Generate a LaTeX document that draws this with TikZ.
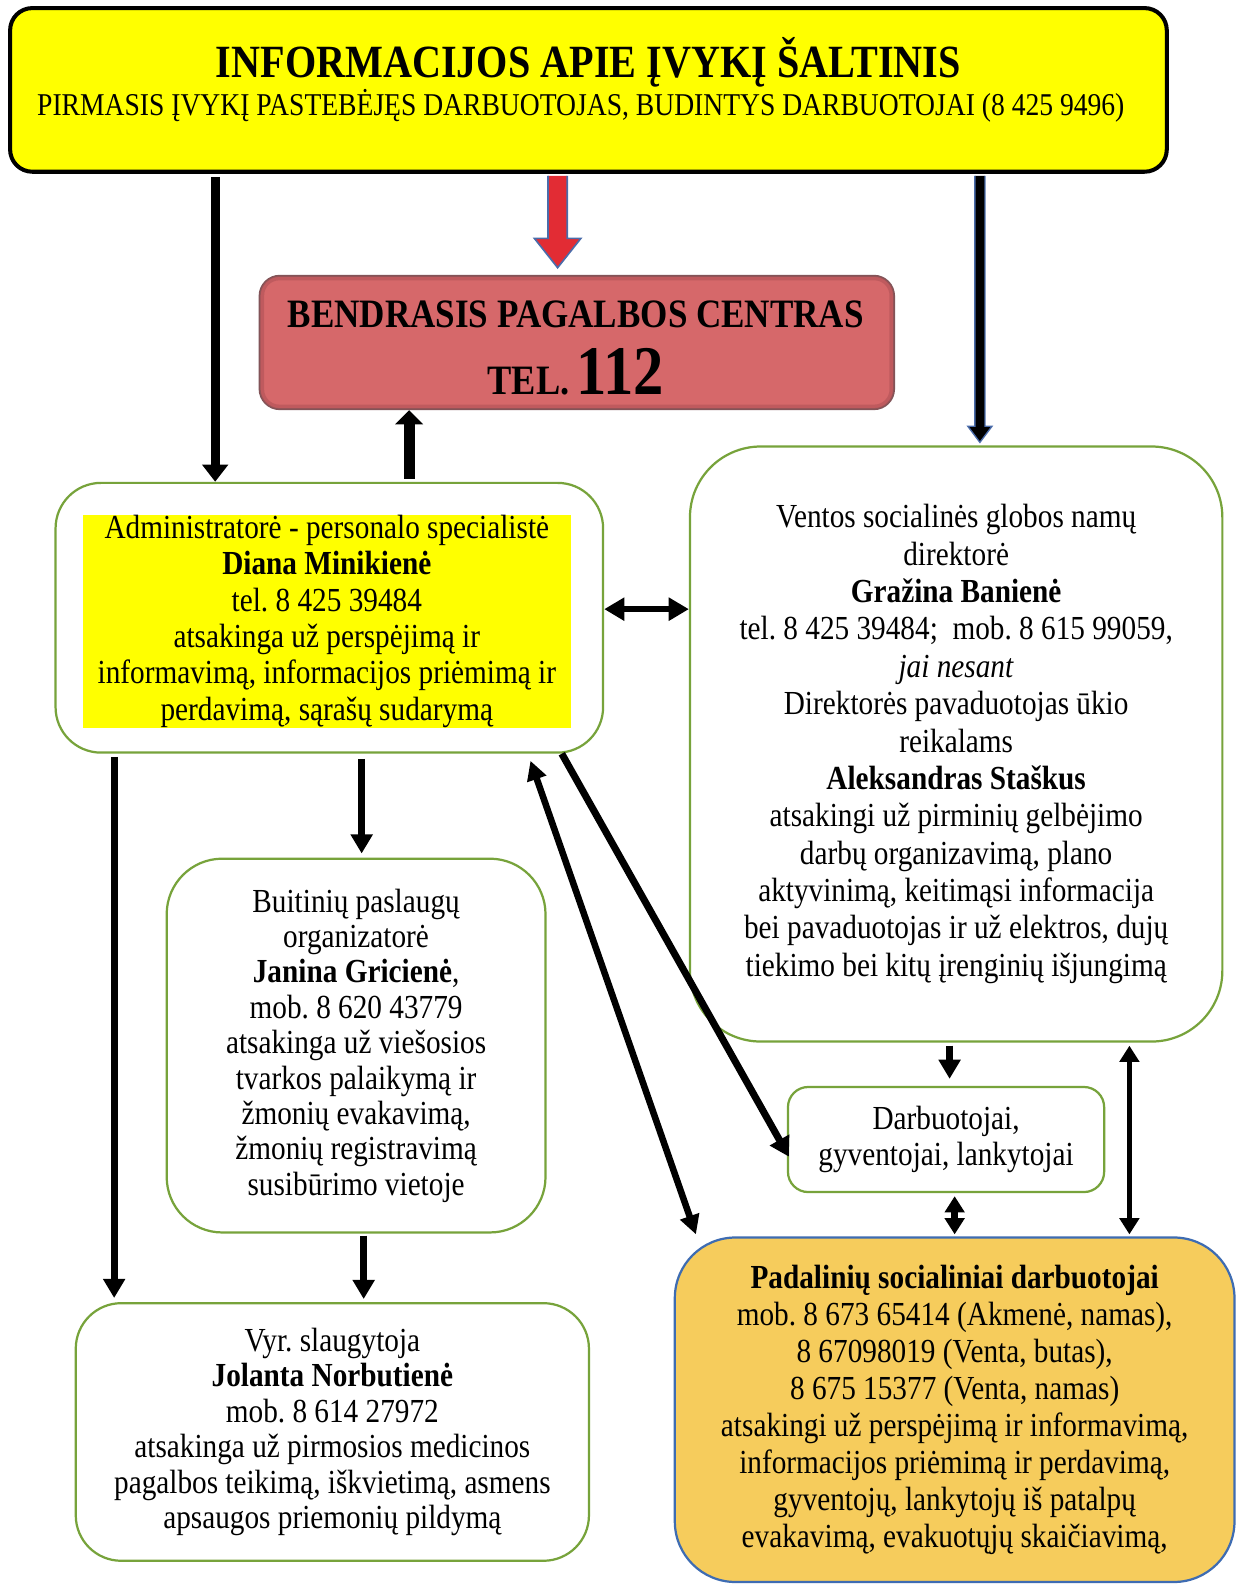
\documentclass[tikz,border=0pt]{standalone}
\usepackage{fontspec}
\setmainfont[FakeStretch=0.87]{Liberation Serif}
\usetikzlibrary{arrows.meta,calc}
\definecolor{gborder}{RGB}{119,163,59}
\definecolor{ylw}{RGB}{255,255,0}
\definecolor{redbox}{RGB}{214,104,106}
\definecolor{redboxborder}{RGB}{130,84,88}
\definecolor{redbevel}{RGB}{176,82,86}
\definecolor{redarrow}{RGB}{226,44,52}
\definecolor{bluedge}{RGB}{74,108,170}
\definecolor{padfill}{RGB}{246,204,92}
\definecolor{padborder}{RGB}{62,108,178}
\frenchspacing
\begin{document}
\begin{tikzpicture}[x=1pt,y=-1pt,
  gbox/.style={draw=gborder, line width=2.2pt, fill=white, rounded corners=#1, align=center, inner sep=0pt},
  txt/.style={font=\fontsize{33.3}{#1}\selectfont},
  arr/.style={line width=7pt, -{Triangle[length=19pt,width=21pt]}},
  darr/.style={line width=6.5pt, {Triangle[length=16pt,width=19pt]}-{Triangle[length=16pt,width=19pt]}},
]
\useasboundingbox (0,0) rectangle (1225,1568);
\fill[white] (0,0) rectangle (1225,1568);

% top box
\node[draw=black, line width=4pt, fill=ylw, rounded corners=22pt, minimum width=1145pt, minimum height=162pt, inner sep=0pt] (top) at (582.5,89) {};
\node[font=\fontsize{45.7}{50}\selectfont\bfseries, inner sep=0pt] (title) at (582.5,62) {INFORMACIJOS APIE ĮVYKĮ ŠALTINIS};
\node[font=\fontsize{31.4}{36}\selectfont, inner sep=0pt] (subtitle) at (575,105) {PIRMASIS ĮVYKĮ PASTEBĖJĘS DARBUOTOJAS, BUDINTYS DARBUOTOJAI (8 425 9496)};

% red box
\node[draw=redboxborder, line width=2pt, fill=redbox, rounded corners=20pt, minimum width=628pt, minimum height=132pt, inner sep=0pt] (red) at (571,339) {};
\draw[redbevel, line width=4pt, opacity=0.6, rounded corners=17pt] ($(red.north west)+(3.5,3.5)$) rectangle ($(red.south east)+(-3.5,-3.5)$);
\node[font=\fontsize{39.9}{44}\selectfont\bfseries, inner sep=0pt] (redt1) at (570,311) {BENDRASIS PAGALBOS CENTRAS};
\node[font=\bfseries, anchor=base, inner sep=0pt] (redt2) at (570,391) {\fontsize{41.4}{45}\selectfont TEL.\,\fontsize{69}{72}\selectfont 112};

% admin box
\node[gbox=45pt, minimum width=542pt, minimum height=267pt] (admin) at (326,611.5) {};
\node[fill=ylw, minimum width=483pt, minimum height=210pt, txt=36, align=center, inner sep=0pt] (admintxt) at (323.5,615) {Administratorė - personalo specialistė\\ \textbf{Diana Minikienė}\\ tel. 8 425 39484\\ atsakinga už perspėjimą ir\\ informavimą, informacijos priėmimą ir\\ perdavimą, sąrašų sudarymą};

% ventos box
\node[gbox=70pt, minimum width=527pt, minimum height=589pt, txt=37] (ventos) at (946.5,736.5) {Ventos socialinės globos namų\\ direktorė\\ \textbf{Gražina Banienė}\\ tel. 8 425 39484;\ \ mob. 8 615 99059,\\ \textit{jai nesant}\\ Direktorės pavaduotojas ūkio\\ reikalams\\ \textbf{Aleksandras Staškus}\\ atsakingi už pirminių gelbėjimo\\ darbų organizavimą, plano\\ aktyvinimą, keitimąsi informacija\\ bei pavaduotojas ir už elektros, dujų\\ tiekimo bei kitų įrenginių išjungimą};

% buitiniu box
\node[gbox=55pt, minimum width=375pt, minimum height=370pt, txt=35] (buit) at (352.5,1035) {Buitinių paslaugų\\ organizatorė\\ \textbf{Janina Gricienė},\\ mob. 8 620 43779\\ atsakinga už viešosios\\ tvarkos palaikymą ir\\ žmonių evakavimą,\\ žmonių registravimą\\ susibūrimo vietoje};

% vyr box
\node[gbox=45pt, minimum width=508pt, minimum height=255pt, txt=35] (vyr) at (329,1417.5) {Vyr. slaugytoja\\ \textbf{Jolanta Norbutienė}\\ mob. 8 614 27972\\ atsakinga už pirmosios medicinos\\ pagalbos teikimą, iškvietimą, asmens\\ apsaugos priemonių pildymą};

% darbuotojai box
\node[gbox=20pt, minimum width=313pt, minimum height=104pt, txt=35] (darb) at (936.5,1128) {Darbuotojai,\\ gyventojai, lankytojai};

% padaliniu box
\node[draw=padborder, line width=2.2pt, fill=padfill, rounded corners=60pt, minimum width=554pt, minimum height=341pt, inner sep=0pt, align=center, txt=36.6] (pad) at (945,1395.5) {\textbf{Padalinių socialiniai darbuotojai}\\ mob. 8 673 65414 (Akmenė, namas),\\ 8 67098019 (Venta, butas),\\ 8 675 15377 (Venta, namas)\\ atsakingi už perspėjimą ir informavimą,\\ informacijos priėmimą ir perdavimą,\\ gyventojų, lankytojų iš patalpų\\ evakavimą, evakuotųjų skaičiavimą,};

% ---- connectors ----
% top -> admin (black block arrow)
\draw[line width=9pt, -{Triangle[length=17pt,width=25pt]}, shorten <=3pt] (213,0 |- top.south) -- (213,0 |- admin.north);

% top -> red (red block arrow with blue edge)
\coordinate (rs) at ($(552,0 |- top.south)+(0,2)$);
\coordinate (re) at ($(552,0 |- red.north)+(0,-7)$);
\fill[redarrow] ($(rs)+(-9.5,0)$) -- ($(re)+(-9.5,-29)$) -- ($(re)+(-23,-29)$) -- (re) -- ($(re)+(23,-29)$) -- ($(re)+(9.5,-29)$) -- ($(rs)+(9.5,0)$) -- cycle;
\draw[bluedge, line width=1.6pt, line join=miter] ($(rs)+(-9.5,0)$) -- ($(re)+(-9.5,-29)$) -- ($(re)+(-23,-29)$) -- (re) -- ($(re)+(23,-29)$) -- ($(re)+(9.5,-29)$) -- ($(rs)+(9.5,0)$);

% top -> ventos (black block arrow with blue edge)
\coordinate (bs) at ($(970,0 |- top.south)+(0,2)$);
\coordinate (be) at ($(970,0 |- ventos.north)+(0,-3)$);
\fill[black] ($(bs)+(-5,0)$) -- ($(be)+(-5,-16)$) -- ($(be)+(-12,-16)$) -- (be) -- ($(be)+(12,-16)$) -- ($(be)+(5,-16)$) -- ($(bs)+(5,0)$) -- cycle;
\draw[bluedge, line width=1.3pt, line join=miter] ($(bs)+(-5,0)$) -- ($(be)+(-5,-16)$) -- ($(be)+(-12,-16)$) -- (be) -- ($(be)+(12,-16)$) -- ($(be)+(5,-16)$) -- ($(bs)+(5,0)$);

% admin -> red (up)
\draw[line width=11pt, -{Triangle[length=14pt,width=27pt]}, shorten <=3pt] (405,0 |- admin.north) -- (405,0 |- red.south);

% admin <-> ventos
\draw[darr, {Triangle[length=20pt,width=22pt]}-{Triangle[length=20pt,width=22pt]}] (admin.east |- 0,603) -- (ventos.west |- 0,603);

% admin -> buit
\draw[arr, shorten <=5pt, shorten >=4pt] (358,0 |- admin.south) -- (358,0 |- buit.north);
% admin -> vyr
\draw[arr, shorten <=3pt, shorten >=4pt] (113,0 |- admin.south) -- (113,0 |- vyr.north);
% buit -> vyr
\draw[arr, shorten <=2pt, shorten >=3pt] (360,0 |- buit.south) -- (360,0 |- vyr.north);
% admin -> darb (diagonal)
\draw[arr] ($(admin.south east)+(-42,0)$) -- ($(darb.west)+(2,17)$);
% admin <-> pad (diagonal)
\draw[darr, {Triangle[length=19pt,width=19pt]}-{Triangle[length=19pt,width=19pt]}] ($(admin.south east)+(-73,7)$) -- ($(pad.north west)+(22,-2)$);
% ventos -> darb
\draw[arr, shorten <=3pt, shorten >=7pt] (940,0 |- ventos.south) -- (940,0 |- darb.north);
% darb <-> pad
\draw[darr, shorten <=3pt, shorten >=2pt] (945,0 |- darb.south) -- (945,0 |- pad.north);
% ventos <-> pad
\draw[darr, line width=5pt, shorten <=3pt, shorten >=2pt] (1118,0 |- ventos.south) -- (1118,0 |- pad.north);
\end{tikzpicture}
\end{document}
